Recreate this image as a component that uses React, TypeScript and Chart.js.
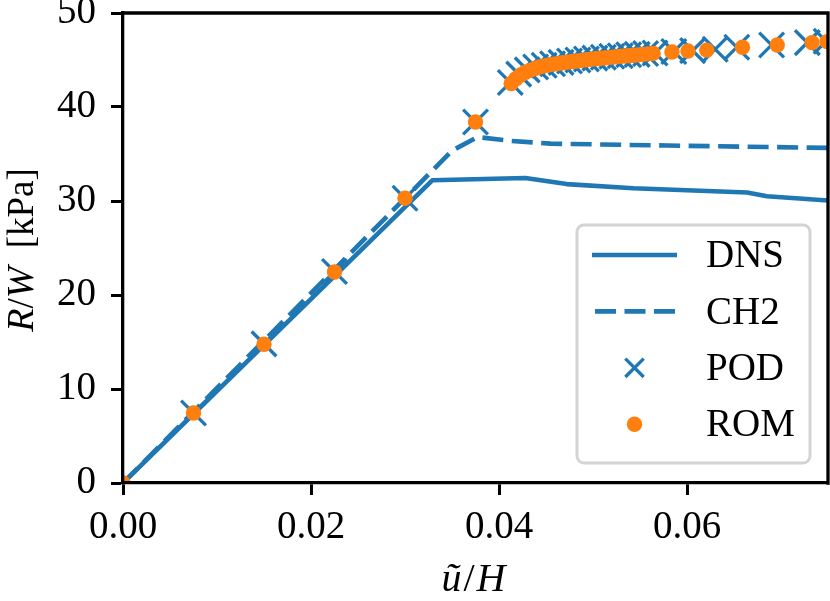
import { useEffect, useRef } from 'react'
import { Chart, registerables, type Plugin, type ChartConfiguration } from 'chart.js'

Chart.register(...registerables)

const BLUE = '#1f77b4'
const ORANGE = '#ff7f0e'
const SERIF = '"Liberation Serif", "Times New Roman", serif'

// DNS reference curve
const dnsX = [0, 0.0329, 0.0428, 0.0472, 0.0543, 0.0664, 0.0685, 0.075]
const dnsY = [0, 32.2, 32.45, 31.8, 31.35, 30.9, 30.5, 30.05]

// CH2 model
const ch2X = [0, 0.035, 0.0377, 0.0412, 0.0455, 0.0579, 0.075]
const ch2Y = [0, 35.35, 36.8, 36.4, 36.1, 35.9, 35.65]

// POD samples
const podX = [
  0, 0.0075, 0.015, 0.0225, 0.03, 0.0375,
  0.0412, 0.0421, 0.043, 0.0439, 0.0448, 0.0457, 0.0466, 0.0475, 0.0484,
  0.0493, 0.0502, 0.0511, 0.052, 0.0529, 0.0538, 0.0547, 0.0556,
  0.0566, 0.0586, 0.0606, 0.063, 0.0653, 0.069, 0.0728, 0.0748,
]
const podY = [
  0, 7.45, 14.8, 22.5, 30.3, 38.4,
  42.6, 43.5, 43.95, 44.25, 44.45, 44.6, 44.75, 44.9, 45.0,
  45.1, 45.2, 45.3, 45.4, 45.45, 45.55, 45.6, 45.7,
  45.75, 45.9, 46.0, 46.15, 46.35, 46.6, 46.85, 47.0,
]

// ROM samples
const romX = [
  0, 0.0075, 0.015, 0.0225, 0.03, 0.0375,
  0.0413, 0.0418, 0.0423, 0.0428, 0.0433, 0.0438, 0.0443, 0.0448, 0.0453,
  0.0458, 0.0463, 0.0468, 0.0473, 0.0478, 0.0483, 0.0488, 0.0493, 0.0498,
  0.0503, 0.0508, 0.0513, 0.0518, 0.0523, 0.0528, 0.0533, 0.0538, 0.0543,
  0.0548, 0.0553, 0.0558, 0.0564,
  0.0584, 0.0601, 0.0621, 0.0659, 0.0696, 0.0733, 0.0749,
]
const romY = [
  0, 7.45, 14.76, 22.45, 30.3, 38.4,
  42.5, 43.0, 43.4, 43.7, 43.9, 44.1, 44.25, 44.38, 44.48,
  44.56, 44.63, 44.7, 44.77, 44.84, 44.9, 44.96, 45.02, 45.08,
  45.13, 45.18, 45.23, 45.28, 45.33, 45.38, 45.42, 45.46, 45.5,
  45.55, 45.6, 45.65, 45.7,
  45.85, 45.95, 46.05, 46.35, 46.6, 46.85, 46.95,
]

const xTicks = [0, 0.02, 0.04, 0.06]
const xTickLabels = ['0.00', '0.02', '0.04', '0.06']
const yTicks = [0, 10, 20, 30, 40, 50]
const yTickLabels = ['0', '10', '20', '30', '40', '50']

const toPoints = (xs: number[], ys: number[]) => xs.map((x, i) => ({ x, y: ys[i] }))

// draws text runs (with their own fonts and extra gaps) centred on 0
function drawRuns(ctx: CanvasRenderingContext2D, runs: [string, string, number][]) {
  let total = 0
  for (const [t, f, gap] of runs) { ctx.font = f; total += ctx.measureText(t).width + gap }
  let pos = -total / 2
  for (const [t, f, gap] of runs) {
    ctx.font = f
    ctx.fillText(t, pos, 0)
    pos += ctx.measureText(t).width + gap
  }
}

const framePlugin: Plugin<'scatter'> = {
  id: 'frameAndTitles',
  afterDraw(chart) {
    const { ctx, chartArea: a } = chart
    ctx.save()
    // top + right spines
    ctx.strokeStyle = '#000'
    ctx.lineWidth = 3.3
    ctx.lineCap = 'square'
    ctx.beginPath()
    ctx.moveTo(a.left, a.top)
    ctx.lineTo(a.right, a.top)
    ctx.lineTo(a.right, a.bottom)
    ctx.stroke()
    ctx.restore()

    ctx.save()
    ctx.fillStyle = '#000'
    ctx.textBaseline = 'alphabetic'
    const itX = `italic 40px ${SERIF}`
    const upX = `40px ${SERIF}`
    ctx.translate((a.left + a.right) / 2 - 2, 591)
    drawRuns(ctx, [['ũ', itX, 2], ['/', upX, 2], ['H', itX, 0]])
    ctx.restore()

    ctx.save()
    ctx.fillStyle = '#000'
    ctx.textBaseline = 'alphabetic'
    const it = `italic 38px ${SERIF}`
    const up = `37px ${SERIF}`
    ctx.translate(33, (a.top + a.bottom) / 2 + 2)
    ctx.rotate(-Math.PI / 2)
    drawRuns(ctx, [['R', it, 0], ['/', up, 0], ['W', it, 9], [' [kPa]', up, 0]])
    ctx.restore()
  },
}

const legendPlugin: Plugin<'scatter'> = {
  id: 'boxLegend',
  afterDraw(chart) {
    const { ctx, chartArea: a } = chart
    const right = a.right - 18
    const bottom = a.bottom - 20
    const left = 577
    const top = 225
    ctx.save()
    ctx.fillStyle = 'rgba(255,255,255,0.8)'
    ctx.strokeStyle = '#d4d4d4'
    ctx.lineWidth = 3
    ctx.beginPath()
    ctx.roundRect(left, top, right - left, bottom - top, 7)
    ctx.fill()
    ctx.stroke()

    const rowH = 56.4
    const sx0 = 592
    const sx1 = 677
    const tx = 706
    ctx.font = `39px ${SERIF}`
    ctx.textBaseline = 'middle'
    chart.data.datasets.forEach((ds: any, i) => {
      const y = 255 + i * rowH
      const mid = (sx0 + sx1) / 2
      if (ds.showLine) {
        ctx.strokeStyle = ds.borderColor
        ctx.lineWidth = ds.borderWidth
        ctx.lineCap = 'butt'
        ctx.setLineDash(ds.borderDash || [])
        ctx.beginPath()
        ctx.moveTo(sx0 + (ds.borderDash ? 3 : 0), y)
        ctx.lineTo(sx1, y)
        ctx.stroke()
        ctx.setLineDash([])
      } else if (ds.pointStyle === 'crossRot') {
        const r = 13
        const d = r * Math.SQRT1_2
        ctx.strokeStyle = ds.pointBorderColor
        ctx.lineWidth = ds.pointBorderWidth
        ctx.lineCap = 'butt'
        ctx.beginPath()
        ctx.moveTo(mid - d, y - d)
        ctx.lineTo(mid + d, y + d)
        ctx.moveTo(mid + d, y - d)
        ctx.lineTo(mid - d, y + d)
        ctx.stroke()
      } else {
        ctx.fillStyle = ds.pointBackgroundColor
        ctx.beginPath()
        ctx.arc(mid, y, ds.pointRadius, 0, Math.PI * 2)
        ctx.fill()
      }
      ctx.fillStyle = '#000'
      ctx.fillText(ds.label, tx, y + 2)
    })
    ctx.restore()
  },
}

export default function App() {
  const canvasRef = useRef<HTMLCanvasElement>(null)
  const chartRef = useRef<Chart | null>(null)

  useEffect(() => {
    const canvas = canvasRef.current
    if (!canvas) return
    chartRef.current?.destroy()

    const tickFont = { family: SERIF, size: 39 }

    const config: ChartConfiguration<'scatter'> = {
      type: 'scatter',
      data: {
        datasets: [
          {
            label: 'DNS',
            data: toPoints(dnsX, dnsY),
            showLine: true,
            borderColor: BLUE,
            borderWidth: 4.6,
            borderJoinStyle: 'round',
            pointRadius: 0,
            clip: 0,
            order: 4,
          },
          {
            label: 'CH2',
            data: toPoints(ch2X, ch2Y),
            showLine: true,
            borderColor: BLUE,
            borderWidth: 4.6,
            borderDash: [21, 8.5],
            borderJoinStyle: 'round',
            pointRadius: 0,
            clip: 0,
            order: 3,
          },
          {
            label: 'POD',
            data: toPoints(podX, podY),
            showLine: false,
            pointStyle: 'crossRot',
            pointRadius: 17.5,
            pointBorderWidth: 3.3,
            pointBorderColor: BLUE,
            pointBackgroundColor: BLUE,
            clip: 0,
            order: 2,
          },
          {
            label: 'ROM',
            data: toPoints(romX, romY),
            showLine: false,
            pointStyle: 'circle',
            pointRadius: 7.7,
            pointBorderWidth: 0,
            pointBackgroundColor: ORANGE,
            pointBorderColor: ORANGE,
            clip: 0,
            order: 1,
          },
        ] as any,
      },
      options: {
        responsive: false,
        animation: false,
        events: [],
        layout: { autoPadding: false, padding: { top: 13, right: 2, left: 0, bottom: 0 } },
        plugins: {
          legend: { display: false },
          tooltip: { enabled: false },
        },
        scales: {
          x: {
            type: 'linear',
            min: 0,
            max: 0.075,
            afterBuildTicks: (s) => { s.ticks = xTicks.map((value) => ({ value })) },
            afterFit: (s) => {
              s.height = 118
              s.paddingLeft = 0
              s.paddingRight = 0
            },
            ticks: {
              font: tickFont,
              color: '#000',
              padding: 9,
              maxRotation: 0,
              callback: (v) => xTickLabels[xTicks.indexOf(Number(v))] ?? '',
            },
            grid: { drawOnChartArea: false, drawTicks: true, tickLength: 12, tickWidth: 3, tickColor: '#000' },
            border: { display: true, color: '#000', width: 3.3, z: 1 },
          },
          y: {
            type: 'linear',
            min: 0,
            max: 50,
            afterBuildTicks: (s) => { s.ticks = yTicks.map((value) => ({ value })) },
            afterFit: (s) => {
              s.width = 123
              s.paddingTop = 0
              s.paddingBottom = 0
            },
            ticks: {
              font: tickFont,
              color: '#000',
              padding: 15,
              callback: (v) => yTickLabels[yTicks.indexOf(Number(v))] ?? '',
            },
            grid: { drawOnChartArea: false, drawTicks: true, tickLength: 12, tickWidth: 3, tickColor: '#000' },
            border: { display: true, color: '#000', width: 3.3, z: 1 },
          },
        },
      },
      plugins: [framePlugin, legendPlugin],
    }

    chartRef.current = new Chart(canvas, config)
    return () => {
      chartRef.current?.destroy()
      chartRef.current = null
    }
  }, [])

  return (
    <div style={{ position: 'fixed', left: 0, top: 0, width: 830, height: 601, background: '#fff' }}>
      <canvas ref={canvasRef} width={830} height={601} role="img" aria-label="R/W versus u/H for DNS, CH2, POD and ROM" />
    </div>
  )
}
